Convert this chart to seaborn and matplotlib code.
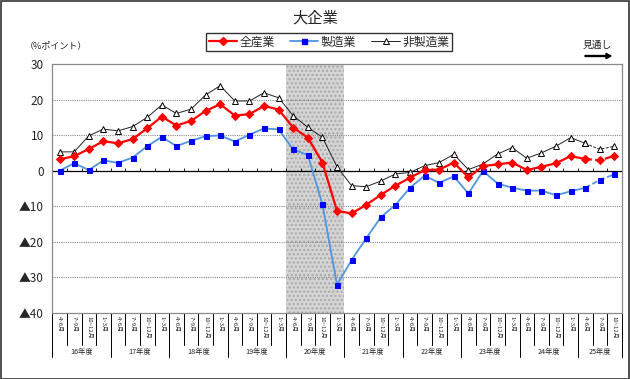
import numpy as np
import pandas as pd
import matplotlib
matplotlib.use('Agg')
import matplotlib.pyplot as plt
import matplotlib.transforms as mtransforms
from matplotlib.lines import Line2D
from matplotlib.patches import Rectangle
import seaborn as sns

# 16年度 4~6月 ... 25年度 10~12月 (last two quarters = forecast)
years = ['16年度', '17年度', '18年度', '19年度', '20年度',
         '21年度', '22年度', '23年度', '24年度', '25年度']
quarters = ['4~6月', '7~9月', '10~12月', '1~3月']

zensangyo = [3.2, 4.1, 6.1, 8.3, 7.7, 8.9, 11.9, 15.2, 12.7, 14.0,
             16.8, 18.7, 15.5, 15.9, 18.2, 17.2, 12.1, 9.3, 2.3, -11.3,
             -12.0, -9.6, -6.8, -4.2, -2.0, 0.2, 0.3, 2.3, -1.9, 1.3,
             1.8, 2.3, 0.2, 1.1, 2.1, 4.1, 3.3, 2.9, 4.2]
seizo = [0.0, 2.1, 0.2, 2.9, 2.2, 3.7, 6.9, 9.5, 6.9, 8.4,
         9.7, 9.9, 8.2, 10.1, 11.9, 11.6, 6.0, 4.4, -9.4, -32.1,
         -25.1, -19.0, -13.1, -9.6, -4.8, -1.4, -3.4, -1.6, -6.4, -0.1,
         -3.6, -4.8, -5.6, -5.6, -6.9, -5.8, -4.8, -2.6, -1.0]
hiseizo = [5.3, 5.3, 9.8, 11.7, 11.2, 12.4, 15.0, 18.5, 16.1, 17.3,
           21.3, 23.9, 19.6, 19.6, 21.9, 20.5, 15.5, 12.2, 9.4, 1.1,
           -4.2, -4.5, -2.9, -0.9, -0.5, 1.4, 2.3, 4.6, 0.3, 1.9,
           4.7, 6.5, 3.5, 5.0, 6.9, 9.3, 7.7, 6.0, 6.9]

n = len(zensangyo)
cat_labels = [quarters[i % 4] for i in range(n)]
n_actual = 37   # points after this are 見通し

df = pd.DataFrame({'i': np.arange(n), '全産業': zensangyo,
                   '製造業': seizo, '非製造業': hiseizo})

sns.set_style('white')
plt.rcParams['font.family'] = ['Noto Sans CJK JP', 'DejaVu Sans']

fig = plt.figure(figsize=(6.3, 3.79), dpi=100)
ax = fig.add_axes([52.3 / 630, 1 - 313 / 379, (621.7 - 52.3) / 630, (313 - 64) / 379])

# shaded 20年度 band
ax.axvspan(15.5, 19.5, facecolor='#d4d4d4', edgecolor='#a8a8a8', hatch='....',
           linewidth=0, zorder=0)

for v in [-30, -20, -10, 10, 20]:
    ax.axhline(v, color='#8a8a8a', lw=0.8, ls=(0, (1, 1)), zorder=1)
ax.axhline(0, color='black', lw=0.9, zorder=2)
ax.vlines(np.arange(n + 1) - 0.5, 0, 0.8, color='black', lw=0.6, zorder=2)

styles = {
    '全産業': dict(color='#ff0000', marker='D', markersize=3.8, lw=1.6,
                 markerfacecolor='#ff0000', markeredgecolor='#ff0000'),
    '製造業': dict(color='#4f95e0', marker='s', markersize=3.6, lw=1.3,
                 markerfacecolor='#0000ff', markeredgecolor='#0000ff'),
    '非製造業': dict(color='#222222', marker='^', markersize=5, lw=0.7,
                  markerfacecolor='white', markeredgecolor='black', markeredgewidth=0.7),
}
for name in ['非製造業', '製造業', '全産業']:
    st = styles[name]
    past = df.iloc[:n_actual]
    fut = df.iloc[n_actual - 1:]
    sns.lineplot(data=past, x='i', y=name, ax=ax, zorder=3, **st)
    sns.lineplot(data=fut, x='i', y=name, ax=ax, zorder=3, linestyle=(0, (3, 1.5)), **st)

ax.set_xlim(-0.5, n - 0.5)
ax.set_ylim(-40, 30)
ax.set_xticks([])
ax.set_yticks([30, 20, 10, 0, -10, -20, -30, -40])
ax.set_yticklabels(['30', '20', '10', '0', '▲10', '▲20', '▲30', '▲40'], fontsize=8.5)
ax.tick_params(axis='y', length=0, pad=6)
ax.set_xlabel('')
ax.set_ylabel('')
for s in ax.spines.values():
    s.set_color('#8a8a8a')
    s.set_linewidth(0.9)

# category labels under the axis
trans = mtransforms.blended_transform_factory(ax.transData, fig.transFigure)
def fy(px):
    return 1 - px / 379
for i, lab in enumerate(cat_labels):
    ax.text(i, fy(316), lab, transform=trans, rotation=-90, ha='center', va='top',
            fontsize=4.3, clip_on=False)
for b in range(n + 1):
    bottom = 357 if (b % 4 == 0 or b == n) else 345
    ax.add_line(Line2D([b - 0.5, b - 0.5], [fy(313), fy(bottom)], transform=trans,
                       color='black', lw=0.7, clip_on=False))
for k, yr in enumerate(years):
    start = k * 4
    end = min(start + 4, n)
    ax.text((start + end - 1) / 2, fy(352), yr, transform=trans, ha='center',
            va='center', fontsize=5.2, clip_on=False)

# titles and annotations
fig.text(0.5, fy(18), '大企業', ha='center', va='center', fontsize=11)
fig.text(25 / 630, fy(46), '（%ポイント）', ha='left', va='center', fontsize=6.5)
fig.text(597 / 630, fy(45), '見通し', ha='center', va='center', fontsize=7)
fig.add_artist(matplotlib.patches.FancyArrow(585 / 630, fy(56), 26 / 630, 0,
                                             width=0.0025, head_width=0.014,
                                             head_length=0.008, color='black',
                                             length_includes_head=True,
                                             transform=fig.transFigure))

handles = [Line2D([], [], **styles[k]) for k in ['全産業', '製造業', '非製造業']]
leg = fig.legend(handles, ['全産業', '製造業', '非製造業'], loc='center',
                 bbox_to_anchor=(329 / 630, fy(42)), ncol=3, fontsize=8.5,
                 frameon=True, fancybox=False, edgecolor='black', handlelength=2.4,
                 handletextpad=0.2, columnspacing=1.3, borderpad=0.25)
leg.get_frame().set_linewidth(1.0)

fig.add_artist(Rectangle((0.001, 0.001), 0.997, 0.997, transform=fig.transFigure,
                         fill=False, edgecolor='#333333', lw=1.2))

fig.savefig('out.png', dpi=100)
